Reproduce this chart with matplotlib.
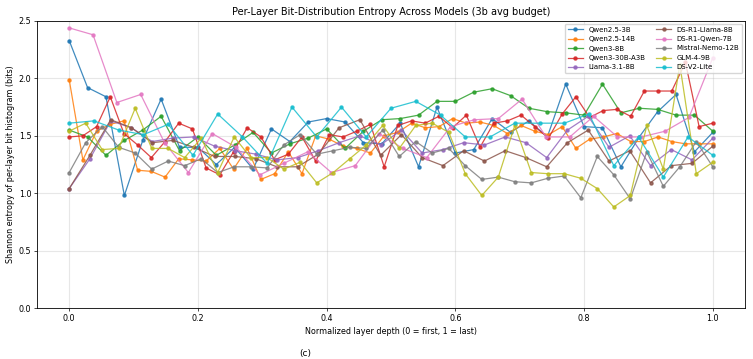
import numpy as np
import matplotlib
matplotlib.use("Agg")
import matplotlib.pyplot as plt

# per-layer entropy values
models = ["Qwen2.5-3B", "Qwen2.5-14B", "Qwen3-8B", "Qwen3-30B-A3B", "Llama-3.1-8B",
          "DS-R1-Llama-8B", "DS-R1-Qwen-7B", "Mistral-Nemo-12B", "GLM-4-9B", "DS-V2-Lite"]

qwen25_3b = [2.33, 1.92, 1.84, 0.98, 1.46, 1.82, 1.40, 1.40, 1.25, 1.40, 1.21, 1.56, 1.45, 1.62,
             1.65, 1.62, 1.44, 1.43, 1.61, 1.23, 1.75, 1.35, 1.38, 1.65, 1.53, 1.63, 1.49, 1.95,
             1.58, 1.57, 1.23, 1.49, 1.71, 1.86, 1.36, 1.53]
qwen25_14b = [1.99, 1.29, 1.54, 1.60, 1.63, 1.20, 1.19, 1.14, 1.30, 1.29, 1.28, 1.39, 1.21, 1.39,
              1.12, 1.17, 1.36, 1.17, 1.50, 1.47, 1.41, 1.39, 1.35, 1.50, 1.53, 1.61, 1.57, 1.58,
              1.65, 1.61, 1.62, 1.59, 1.52, 1.59, 1.54, 1.51, 1.58, 1.39, 1.47, 1.49, 1.52, 1.45,
              1.45, 1.49, 1.45, 1.43, 1.43, 1.43]
qwen3_8b = [1.55, 1.49, 1.33, 1.46, 1.55, 1.67, 1.37, 1.49, 1.33, 1.42, 1.53, 1.35, 1.43, 1.48,
            1.56, 1.39, 1.54, 1.64, 1.65, 1.68, 1.80, 1.80, 1.88, 1.91, 1.85, 1.74, 1.71, 1.70,
            1.68, 1.95, 1.70, 1.74, 1.73, 1.68, 1.68, 1.54]
qwen3_30b = [1.49, 1.50, 1.58, 1.84, 1.52, 1.42, 1.31, 1.45, 1.61, 1.56, 1.22, 1.16, 1.36, 1.57,
             1.49, 1.29, 1.34, 1.49, 1.28, 1.51, 1.49, 1.54, 1.60, 1.23, 1.59, 1.63, 1.61, 1.67,
             1.57, 1.68, 1.40, 1.61, 1.63, 1.68, 1.58, 1.48, 1.69, 1.84, 1.66, 1.72, 1.73, 1.67,
             1.89, 1.89, 1.89, 2.14, 1.58, 1.61]
llama31_8b = [1.04, 1.30, 1.63, 1.57, 1.45, 1.48, 1.49, 1.41, 1.37, 1.34, 1.29, 1.31, 1.37, 1.44,
              1.50, 1.42, 1.55, 1.35, 1.38, 1.44, 1.42, 1.49, 1.44, 1.31, 1.55, 1.67, 1.40, 1.50,
              1.24, 1.38, 1.29, 1.48]
r1_llama_8b = [1.04, 1.33, 1.64, 1.57, 1.44, 1.46, 1.40, 1.32, 1.32, 1.30, 1.23, 1.23, 1.34, 1.57,
               1.64, 1.33, 1.51, 1.31, 1.24, 1.37, 1.28, 1.37, 1.31, 1.23, 1.44, 1.55, 1.28, 1.37,
               1.09, 1.24, 1.26, 1.41]
r1_qwen_7b = [2.44, 2.38, 1.79, 1.86, 1.44, 1.18, 1.52, 1.40, 1.16, 1.26, 1.36, 1.18, 1.24, 1.52,
              1.39, 1.31, 1.58, 1.64, 1.65, 1.82, 1.49, 1.49, 1.67, 1.49, 1.49, 1.54, 1.66, 2.18]
mistral_12b = [1.18, 1.44, 1.58, 1.40, 1.35, 1.21, 1.28, 1.24, 1.30, 1.18, 1.23, 1.23, 1.22, 1.42,
               1.51, 1.34, 1.37, 1.40, 1.39, 1.55, 1.32, 1.45, 1.35, 1.39, 1.24, 1.12, 1.14, 1.10,
               1.09, 1.13, 1.15, 0.96, 1.32, 1.16, 0.95, 1.36, 1.06, 1.23, 1.45, 1.23]
glm4_9b = [1.54, 1.61, 1.38, 1.39, 1.74, 1.39, 1.39, 1.31, 1.48, 1.18, 1.49, 1.31, 1.31, 1.21,
           1.27, 1.09, 1.18, 1.30, 1.42, 1.59, 1.39, 1.59, 1.61, 1.53, 1.17, 0.98, 1.14, 1.59,
           1.18, 1.17, 1.17, 1.13, 1.04, 0.88, 0.98, 1.59, 1.21, 2.12, 1.17, 1.27]
ds_v2_lite = [1.61, 1.63, 1.55, 1.51, 1.60, 1.33, 1.69, 1.49, 1.26, 1.75, 1.49, 1.75, 1.49, 1.74,
              1.80, 1.68, 1.49, 1.49, 1.61, 1.61, 1.61, 1.69, 1.24, 1.49, 1.14, 1.49, 1.33]

series = [qwen25_3b, qwen25_14b, qwen3_8b, qwen3_30b, llama31_8b,
          r1_llama_8b, r1_qwen_7b, mistral_12b, glm4_9b, ds_v2_lite]

fig = plt.figure(figsize=(7.53, 3.59), dpi=100)
ax = fig.add_axes([37 / 753, 1 - 308 / 359, 708 / 753, 287 / 359])

for name, vals in zip(models, series):
    depth = np.linspace(0, 1, len(vals))
    ax.plot(depth, vals, marker="o", markersize=2.2, linewidth=0.9, alpha=0.85, label=name)

ax.set_ylim(0, 2.5)
ax.set_xlim(-0.05, 1.05)
ax.set_yticks([0.0, 0.5, 1.0, 1.5, 2.0, 2.5])
ax.grid(True, alpha=0.3)
ax.tick_params(labelsize=5.8, length=2, width=0.5, pad=2)
for s in ax.spines.values():
    s.set_linewidth(0.6)
ax.set_title("Per-Layer Bit-Distribution Entropy Across Models (3b avg budget)", fontsize=7, pad=4)
ax.set_xlabel("Normalized layer depth (0 = first, 1 = last)", fontsize=5.8, labelpad=3)
ax.set_ylabel("Shannon entropy of per-layer bit histogram (bits)", fontsize=5.8, labelpad=3)
ax.legend(ncol=2, fontsize=5, loc="upper right", framealpha=0.8,
          borderaxespad=0.4, columnspacing=1.5, handlelength=2.2)

# subfigure caption sits right at the bottom edge
fig.text(305 / 753, 1 / 359, "(c)", fontsize=6.5, ha="center", va="bottom")

fig.savefig("out.png", dpi=100)
